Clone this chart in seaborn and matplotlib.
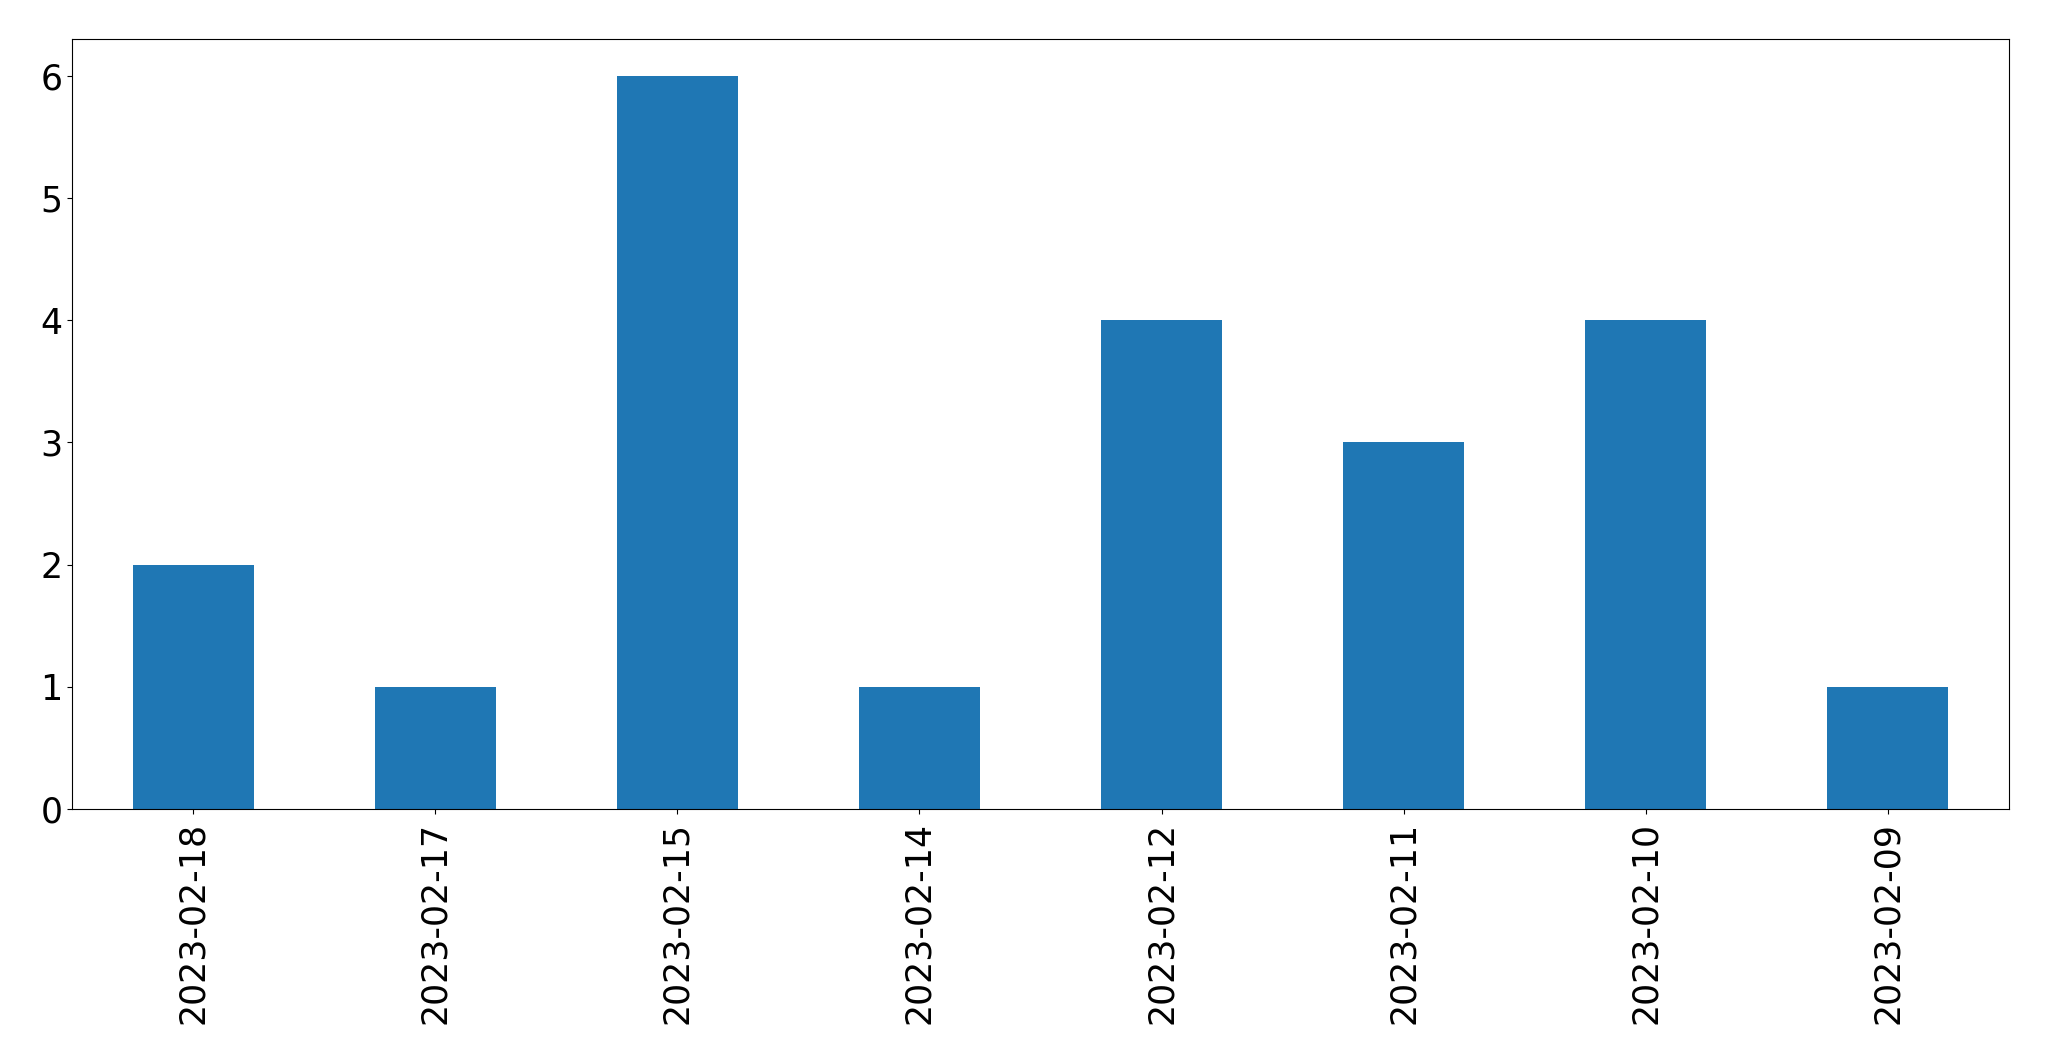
import pandas as pd
import matplotlib
matplotlib.use("Agg")
import matplotlib.pyplot as plt
import seaborn as sns

# counts per date, in the order shown on the chart
dates = ['2023-02-18', '2023-02-17', '2023-02-15', '2023-02-14',
         '2023-02-12', '2023-02-11', '2023-02-10', '2023-02-09']
counts = [2, 1, 6, 1, 4, 3, 4, 1]

df = pd.DataFrame({'date': dates, 'count': counts})

fig = plt.figure(figsize=(20.49, 10.61), dpi=100)
ax = fig.add_axes([72 / 2049, 1 - 809 / 1061, (2009 - 72) / 2049, (809 - 39) / 1061])

sns.barplot(data=df, x='date', y='count', order=dates, color='#1f77b4',
            saturation=1, width=0.5, ax=ax)

ax.set_xlim(-0.5, len(dates) - 0.5)
ax.set_ylim(0, 6.3)
ax.set_xlabel('')
ax.set_ylabel('')
ax.tick_params(axis='both', labelsize=25)
ax.tick_params(axis='x', pad=6)
plt.setp(ax.get_xticklabels(), rotation=90)

fig.savefig('out.png', dpi=100)
